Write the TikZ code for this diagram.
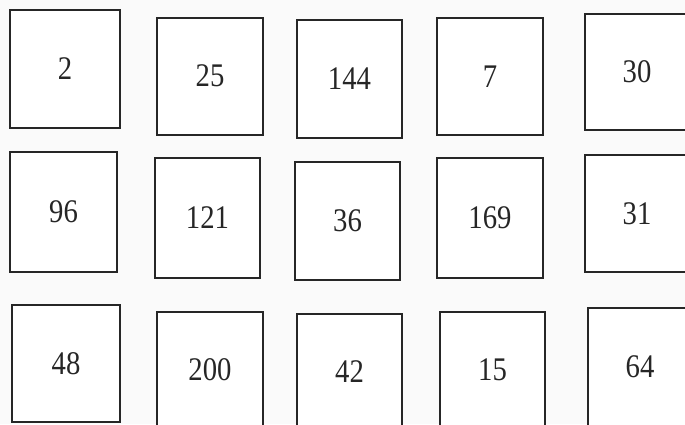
\documentclass[tikz,border=0pt]{standalone}
\usepackage{fontspec}
\setmainfont{Liberation Serif}
\newfontfamily\numfont[FakeStretch=0.87]{Liberation Serif}
\begin{document}
\begin{tikzpicture}[x=1pt,y=-1pt,
  numbox/.style={draw=black!85, line width=2pt, fill=white, inner sep=0pt,
    font=\numfont\fontsize{33}{33}\selectfont, text=black!85}]
\useasboundingbox (0,0) rectangle (685,424);
\clip (0,0) rectangle (685,424);
\fill[black!2] (0,0) rectangle (685,424);
% row 1
\node[numbox, minimum width=110pt, minimum height=118pt] (b2) at (65,69) {2};
\node[numbox, minimum width=106pt, minimum height=117pt] (b25) at (210,76) {25};
\node[numbox, minimum width=105pt, minimum height=118pt] (b144) at (349.5,79) {144};
\node[numbox, minimum width=106pt, minimum height=117pt] (b7) at (490,76.5) {7};
\node[numbox, minimum width=105pt, minimum height=116pt] (b30) at (637,72) {30};
% row 2
\node[numbox, minimum width=107pt, minimum height=120pt] (b96) at (63.5,212) {96};
\node[numbox, minimum width=105pt, minimum height=120pt] (b121) at (207.5,218) {121};
\node[numbox, minimum width=105pt, minimum height=118pt] (b36) at (347.5,221) {36};
\node[numbox, minimum width=106pt, minimum height=120pt] (b169) at (490,218) {169};
\node[numbox, minimum width=105pt, minimum height=117pt] (b31) at (637,213.5) {31};
% row 3
\node[numbox, minimum width=108pt, minimum height=117pt] (b48) at (66,363.5) {48};
\node[numbox, minimum width=106pt, minimum height=116pt] (b200) at (210,370) {200};
\node[numbox, minimum width=105pt, minimum height=116pt] (b42) at (349.5,372) {42};
\node[numbox, minimum width=105pt, minimum height=116pt] (b15) at (492.5,370) {15};
\node[numbox, minimum width=104pt, minimum height=118pt] (b64) at (640,367) {64};
\end{tikzpicture}
\end{document}
